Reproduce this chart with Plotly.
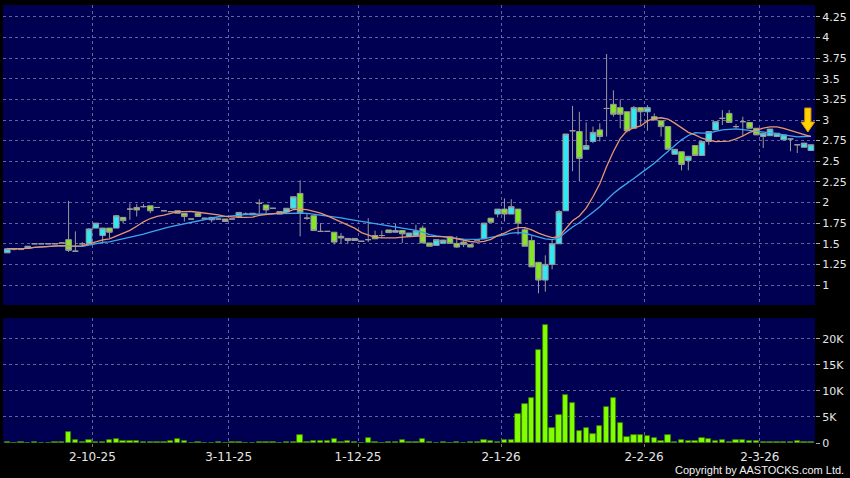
import plotly.graph_objects as go
import pandas as pd

# ---------------- data ----------------
opens = [1.39,1.43,1.44,1.445,1.50,1.50,1.50,1.50,1.51,1.55,
         1.41,1.50,1.50,1.69,1.60,1.69,1.69,1.82,1.92,1.94,
         1.95,1.96,1.94,1.90,1.89,1.90,1.87,1.80,1.87,1.80,
         1.79,1.80,1.80,1.80,1.83,1.86,1.85,1.99,1.97,1.93,
         1.86,1.885,1.93,2.11,1.81,1.84,1.65,1.65,1.64,1.59,
         1.565,1.565,1.53,1.55,1.60,1.60,1.667,1.64,1.66,1.59,
         1.60,1.69,1.51,1.48,1.505,1.585,1.505,1.52,1.49,1.545,
         1.56,1.81,1.86,1.92,1.86,1.92,1.67,1.54,1.275,1.06,
         1.25,1.50,1.90,2.87,2.86,2.645,2.74,2.88,3.14,3.19,
         3.15,3.10,2.90,3.15,3.10,3.04,2.99,2.92,2.585,2.615,
         2.51,2.69,2.57,2.74,2.88,3.02,3.08,2.92,2.98,2.97,
         2.90,2.80,2.81,2.80,2.76,2.77,2.70,2.67,2.63]
highs = [1.45,1.44,1.44,1.47,1.50,1.50,1.50,1.50,1.51,2.02,
         1.65,1.52,1.69,1.75,1.69,1.69,1.85,1.82,1.99,1.98,
         1.98,1.96,1.94,1.90,1.89,1.90,1.87,1.80,1.87,1.81,
         1.82,1.80,1.80,1.80,1.88,1.88,1.87,2.04,1.97,1.93,
         1.89,1.93,2.07,2.27,1.87,1.84,1.75,1.65,1.64,1.63,
         1.565,1.565,1.53,1.81,1.66,1.66,1.667,1.74,1.66,1.63,
         1.73,1.72,1.51,1.55,1.545,1.585,1.59,1.55,1.49,1.545,
         1.75,1.81,1.92,2.05,2.04,1.92,1.70,1.60,1.275,1.36,
         1.55,1.91,2.83,3.17,3.10,2.97,2.92,2.96,3.80,3.36,
         3.25,3.10,3.17,3.15,3.18,3.08,2.99,2.92,2.645,2.615,
         2.56,2.69,2.74,2.86,2.98,3.12,3.12,2.95,3.04,2.97,
         2.90,2.84,2.89,2.84,2.82,2.77,2.70,2.72,2.70]
lows = [1.39,1.42,1.43,1.44,1.50,1.50,1.50,1.50,1.51,1.40,
        1.40,1.47,1.50,1.69,1.50,1.57,1.69,1.75,1.79,1.83,
        1.94,1.87,1.94,1.90,1.89,1.87,1.77,1.80,1.83,1.80,
        1.76,1.80,1.77,1.80,1.83,1.86,1.85,1.87,1.87,1.93,
        1.86,1.885,1.93,1.59,1.79,1.66,1.65,1.65,1.49,1.50,
        1.50,1.54,1.53,1.52,1.56,1.57,1.635,1.64,1.51,1.59,
        1.60,1.51,1.47,1.48,1.505,1.505,1.45,1.46,1.46,1.545,
        1.56,1.76,1.82,1.77,1.86,1.61,1.47,1.22,0.90,0.92,
        1.19,1.50,1.90,2.38,2.26,2.645,2.72,2.74,2.80,3.04,
        2.90,2.85,2.90,2.94,2.87,3.00,2.80,2.645,2.585,2.39,
        2.39,2.57,2.57,2.70,2.88,2.94,2.97,2.90,2.80,2.90,
        2.82,2.66,2.81,2.80,2.76,2.62,2.60,2.67,2.63]
closes = [1.44,1.44,1.43,1.47,1.50,1.50,1.50,1.50,1.51,1.42,
          1.41,1.50,1.68,1.75,1.69,1.64,1.84,1.78,1.92,1.91,
          1.95,1.90,1.94,1.90,1.89,1.87,1.83,1.80,1.83,1.81,
          1.82,1.80,1.77,1.80,1.88,1.86,1.87,1.99,1.91,1.93,
          1.89,1.93,2.07,1.88,1.81,1.66,1.65,1.65,1.52,1.57,
          1.54,1.54,1.53,1.55,1.56,1.60,1.635,1.66,1.62,1.63,
          1.655,1.51,1.47,1.55,1.545,1.505,1.46,1.49,1.46,1.545,
          1.75,1.76,1.92,1.86,1.95,1.75,1.47,1.22,1.06,1.25,
          1.50,1.89,2.83,2.87,2.535,2.69,2.85,2.80,3.14,3.07,
          3.07,2.87,3.15,3.10,3.15,3.00,2.92,2.645,2.645,2.46,
          2.56,2.57,2.74,2.86,2.98,3.02,2.97,2.92,2.98,2.90,
          2.82,2.84,2.89,2.84,2.82,2.77,2.70,2.72,2.70]
volumes = [100,50,200,50,100,50,50,200,100,2200,
           570,100,570,100,250,570,760,440,440,320,
           250,200,150,100,300,700,380,50,100,50,
           50,200,50,100,100,50,50,100,200,250,
           50,100,150,1500,200,380,380,300,760,200,
           380,100,50,1000,100,50,150,100,500,200,
           200,800,100,50,100,50,100,50,100,100,
           570,440,200,630,570,5650,7400,8600,17900,22700,
           2900,5400,9200,7750,2350,2800,1650,3300,7000,8600,
           3800,1140,1460,1460,1330,900,380,1600,100,500,
           440,300,900,700,380,630,200,500,500,380,
           300,250,250,100,200,100,300,100,200]

tick_labels = ["2-10-25", "3-11-25", "1-12-25", "2-1-26", "2-2-26", "2-3-26"]
tick_candles = [13, 33, 52, 73, 94, 111]   # first trading day of each labelled date

price_ticks = [1, 1.25, 1.5, 1.75, 2, 2.25, 2.5, 2.75, 3, 3.25, 3.5, 3.75, 4, 4.25]
vol_ticks = [0, 5000, 10000, 15000, 20000]
vol_tick_text = ["0", "5K", "10K", "15K", "20K"]

idx = list(range(len(closes)))
s_close = pd.Series(closes)
ma10 = s_close.rolling(10, min_periods=1).mean()
ma20 = s_close.rolling(20, min_periods=1).mean()

# ---------------- styling ----------------
NAVY = "#000052"
CYAN = "#30E8F4"
GREEN = "#84E624"
EDGE = "#9a9a9a"
GRID = "rgba(140,140,190,0.7)"
DASH = "3px,3px"
FONT = "DejaVu Sans"

fig = go.Figure()

fig.add_trace(go.Candlestick(
    x=idx, open=opens, high=highs, low=lows, close=closes,
    increasing=dict(fillcolor=CYAN, line=dict(color=EDGE, width=1)),
    decreasing=dict(fillcolor=GREEN, line=dict(color=EDGE, width=1)),
    whiskerwidth=0, xaxis="x", yaxis="y", showlegend=False, hoverinfo="skip"))

fig.add_trace(go.Scatter(x=idx, y=ma20, mode="lines",
                         line=dict(color="#3DA6EE", width=1.3),
                         xaxis="x", yaxis="y", showlegend=False, hoverinfo="skip"))
fig.add_trace(go.Scatter(x=idx, y=ma10, mode="lines",
                         line=dict(color="#E8966C", width=1.3),
                         xaxis="x", yaxis="y", showlegend=False, hoverinfo="skip"))

fig.add_trace(go.Bar(x=idx, y=volumes, width=0.78,
                     marker=dict(color="#80FF00", line=dict(color="#3E7A00", width=0.8)),
                     xaxis="x2", yaxis="y2", showlegend=False, hoverinfo="skip"))

xr = [-0.63, 118.6]
tickvals = [c - 0.5 for c in tick_candles]

common_x = dict(range=xr, tickmode="array", tickvals=tickvals, ticktext=tick_labels,
                showgrid=True, gridcolor=GRID, griddash=DASH, gridwidth=1,
                zeroline=False, showline=False, fixedrange=True)

fig.update_layout(
    width=850, height=478,
    margin=dict(l=3, r=35, t=5, b=35),
    paper_bgcolor="black", plot_bgcolor=NAVY,
    font=dict(family=FONT, size=11, color="#e6e6e6"),
    boxgap=0.18, boxgroupgap=0, bargap=0,
    xaxis=dict(**common_x, anchor="y", showticklabels=False, ticks="",
               rangeslider=dict(visible=False)),
    xaxis2=dict(**common_x, anchor="y2", matches="x", showticklabels=True,
                ticks="outside", ticklen=3, tickcolor="#777777",
                tickfont=dict(family=FONT, size=12, color="#e6e6e6")),
    yaxis=dict(domain=[0.3151, 1], range=[0.758, 4.394], side="right",
               tickmode="array", tickvals=price_ticks,
               ticktext=[f"{v:g}" for v in price_ticks],
               showgrid=True, gridcolor=GRID, griddash=DASH, zeroline=False,
               ticks="outside", ticklen=4, tickcolor="#aaaaaa", fixedrange=True,
               tickfont=dict(family=FONT, size=11, color="#e6e6e6")),
    yaxis2=dict(domain=[0, 0.2854], range=[0, 24000], side="right",
                tickmode="array", tickvals=vol_ticks, ticktext=vol_tick_text,
                showgrid=True, gridcolor=GRID, griddash=DASH, zeroline=False,
                ticks="outside", ticklen=4, tickcolor="#aaaaaa", fixedrange=True,
                tickfont=dict(family=FONT, size=11, color="#e6e6e6")),
)

# yellow marker arrow above the latest candle
xc = len(closes) - 1 - 0.45
tip = 2.855
path = (f"M {xc-0.45},{tip+0.29} L {xc+0.45},{tip+0.29} L {xc+0.45},{tip+0.12} "
        f"L {xc+1.0},{tip+0.12} L {xc},{tip} L {xc-1.0},{tip+0.12} "
        f"L {xc-0.45},{tip+0.12} Z")
fig.add_shape(type="path", path=path, xref="x", yref="y",
              fillcolor="#FFD400", line=dict(color="#E09A00", width=1))

fig.add_annotation(text="Copyright by AASTOCKS.com Ltd.", xref="paper", yref="paper",
                   x=1.038, y=-0.062, xanchor="right", yanchor="middle", showarrow=False,
                   font=dict(family="Liberation Sans Narrow, Liberation Sans", size=11,
                             color="#f0f0f0"))

fig.write_html("out.html", config={"displayModeBar": False},
               post_script="document.body.style.margin='0px';document.body.style.background='black';")
